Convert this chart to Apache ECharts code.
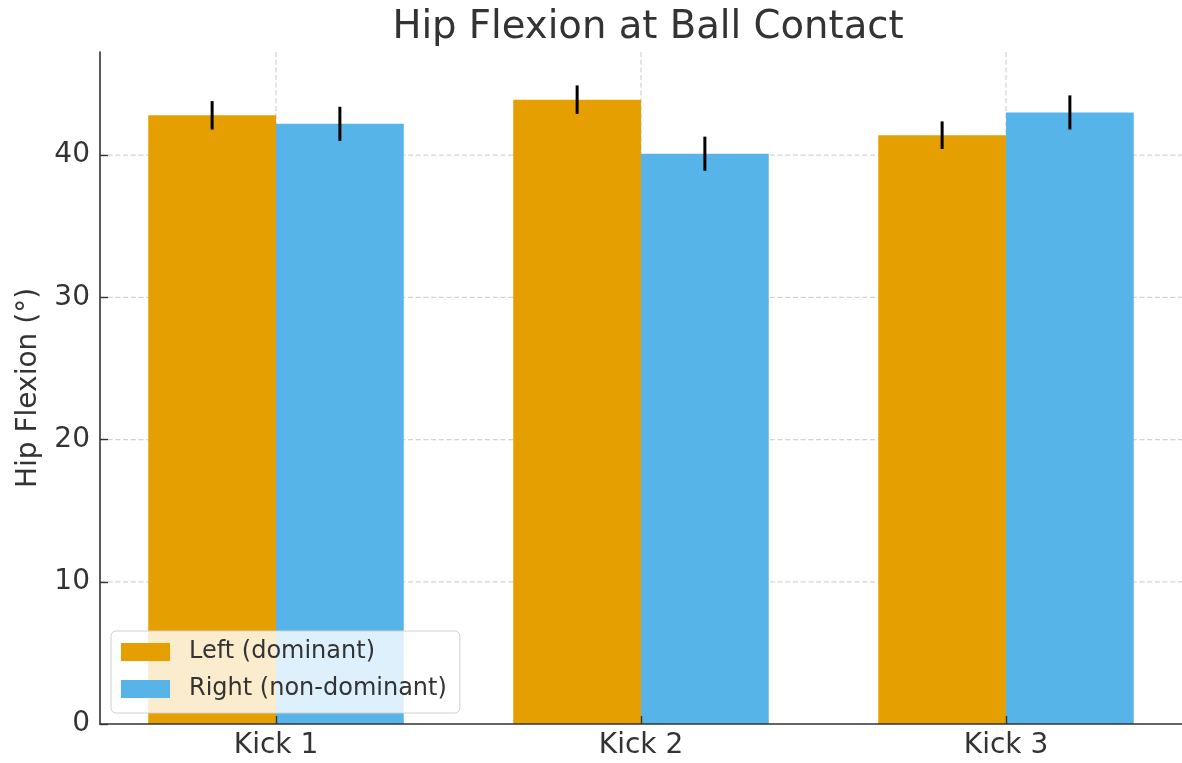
<!DOCTYPE html>
<html><head><meta charset="utf-8">
<script src="https://cdn.jsdelivr.net/npm/echarts@6/dist/echarts.min.js"></script>
<style>html,body{margin:0;padding:0;background:#fff}#c{width:1182px;height:763px}</style>
</head><body><div id="c"></div>
<script>
const categories = ['Kick 1', 'Kick 2', 'Kick 3'];
const seriesNames = ['Left (dominant)', 'Right (non-dominant)'];
const leftMeans = [42.8, 43.9, 41.4];
const leftErr = [1.0, 1.0, 0.97];
const rightMeans = [42.2, 40.1, 43.0];
const rightErr = [1.2, 1.2, 1.2];
const yTicks = [0, 10, 20, 30, 40];

const colors = ['#E69F00', '#56B4E9'];
const FONT = 'DejaVu Sans';
const TEXT = '#333';
const AXIS = '#333';
const BAR_W = 0.35;
const catIdx = categories.map((c, i) => i);

function barRenderer(k) {
  return function (params, api) {
    const x = api.value(0), v = api.value(1);
    const p0 = api.coord([x + (k - 1) * BAR_W, v]);
    const p1 = api.coord([x + k * BAR_W, 0]);
    return { type: 'rect', shape: { x: p0[0], y: p0[1], width: p1[0] - p0[0], height: p1[1] - p0[1] },
             style: { fill: colors[k] } };
  };
}
function errRenderer(k) {
  return function (params, api) {
    const x = api.value(0) + (k - 0.5) * BAR_W, v = api.value(1), e = api.value(2);
    const a = api.coord([x, v + e]), b = api.coord([x, v - e]);
    return { type: 'line', shape: { x1: a[0], y1: a[1], x2: b[0], y2: b[1] },
             style: { stroke: '#000', lineWidth: 3 } };
  };
}
const gridStyle = { stroke: '#d3d3d3', lineWidth: 1.2, lineDash: [5, 2.7] };

const option = {
  animation: false,
  color: colors,
  title: {
    text: 'Hip Flexion at Ball Contact', left: 643, textAlign: 'center', top: 3,
    textStyle: { fontFamily: FONT, fontSize: 38.6, fontWeight: 'normal', color: TEXT }
  },
  legend: {
    data: seriesNames.map(n => ({ name: n, icon: 'rect' })),
    orient: 'vertical', left: 111, top: 631,
    padding: [9, 13, 12, 10], itemGap: 13, itemWidth: 49, itemHeight: 18,
    backgroundColor: 'rgba(255,255,255,0.8)', borderColor: '#d0d0d0', borderWidth: 1, borderRadius: 5,
    textStyle: { fontFamily: FONT, fontSize: 24, color: TEXT, padding: [0, 0, 0, 14] }
  },
  grid: { left: 100, right: 0, top: 52, bottom: 39 },
  xAxis: {
    type: 'value', min: -0.4822, max: 2.4822, z: 10,
    axisLine: { onZero: false, lineStyle: { color: AXIS, width: 1.6 } },
    axisTick: { inside: true, length: 8, customValues: catIdx, lineStyle: { color: AXIS, width: 1.4 } },
    axisLabel: { customValues: catIdx, formatter: v => categories[Math.round(v)] || '',
                 fontFamily: FONT, fontSize: 28, color: TEXT, margin: 8 },
    splitLine: { show: false }
  },
  yAxis: {
    type: 'value', min: 0, max: 47.25, z: 10,
    name: 'Hip Flexion (°)', nameLocation: 'middle', nameGap: 57,
    nameTextStyle: { fontFamily: FONT, fontSize: 28, color: TEXT },
    axisLine: { show: true, onZero: false, lineStyle: { color: AXIS, width: 1.6 } },
    axisTick: { show: true, inside: true, length: 8, customValues: yTicks, lineStyle: { color: AXIS, width: 1.4 } },
    axisLabel: { customValues: yTicks, fontFamily: FONT, fontSize: 28, color: TEXT, margin: 10 },
    splitLine: { show: false }
  },
  series: [
    {
      type: 'custom', name: 'hgrid', silent: true, z: 1,
      data: yTicks.filter(v => v > 0).map(v => [0, v]), encode: { x: 0, y: 1 },
      renderItem: (params, api) => {
        const cs = params.coordSys; const y = api.coord([0, api.value(1)])[1];
        return { type: 'line', shape: { x1: cs.x, y1: y, x2: cs.x + cs.width, y2: y }, style: gridStyle };
      }
    },
    {
      type: 'custom', name: 'vgrid', silent: true, z: 1,
      data: catIdx.map(i => [i, 0]), encode: { x: 0, y: 1 },
      renderItem: (params, api) => {
        const cs = params.coordSys; const x = api.coord([api.value(0), 0])[0];
        return { type: 'line', shape: { x1: x, y1: cs.y, x2: x, y2: cs.y + cs.height }, style: gridStyle };
      }
    },
    {
      type: 'custom', name: seriesNames[0], z: 2, itemStyle: { color: colors[0] },
      data: leftMeans.map((v, i) => [i, v]), encode: { x: 0, y: 1 }, renderItem: barRenderer(0)
    },
    {
      type: 'custom', name: seriesNames[1], z: 2, itemStyle: { color: colors[1] },
      data: rightMeans.map((v, i) => [i, v]), encode: { x: 0, y: 1 }, renderItem: barRenderer(1)
    },
    {
      type: 'custom', name: 'errL', z: 3, silent: true,
      data: leftMeans.map((v, i) => [i, v, leftErr[i]]), encode: { x: 0, y: 1 }, renderItem: errRenderer(0)
    },
    {
      type: 'custom', name: 'errR', z: 3, silent: true,
      data: rightMeans.map((v, i) => [i, v, rightErr[i]]), encode: { x: 0, y: 1 }, renderItem: errRenderer(1)
    }
  ]
};
const chart = echarts.init(document.getElementById('c'), null, { renderer: 'canvas' });
chart.setOption(option);
</script>
</body></html>
